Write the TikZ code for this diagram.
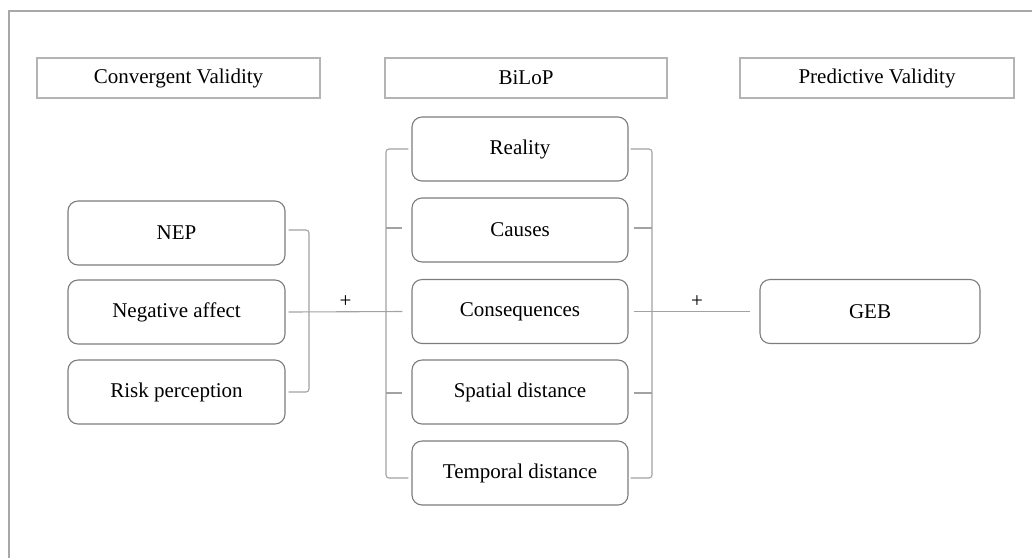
\documentclass[tikz,border=0pt]{standalone}
\usepackage{fontspec}
\setmainfont{Liberation Serif}
\usetikzlibrary{calc}
\definecolor{boxgray}{HTML}{7C7C7C}
\definecolor{linkgray}{HTML}{A2A2A2}
\definecolor{hdrgray}{HTML}{B4B4B4}
\definecolor{framegray}{HTML}{A8A8A8}
\begin{document}
\begin{tikzpicture}[x=1pt,y=-1pt,
  every node/.style={font=\fontsize{21}{25}\selectfont, text=black},
  item/.style={draw=boxgray, line width=1.1pt, rounded corners=10pt,
    minimum width=217pt, minimum height=64pt, inner sep=0pt, fill=white},
  header/.style={draw=hdrgray, line width=1.5pt, minimum height=40pt, inner sep=0pt},
  link/.style={draw=linkgray, line width=1.1pt},
  brace/.style={link, rounded corners=3pt}]
\useasboundingbox (0,0) rectangle (1032,558);

% outer frame (open to the right and bottom)
\draw[framegray, line width=1.5pt] (9,558) -- (9,11) -- (1032,11);

% column headers
\node[header, minimum width=283pt] (hconv) at (178.5,78) {Convergent Validity};
\node[header, minimum width=282pt] (hbilop) at (526,78) {BiLoP};
\node[header, minimum width=274pt] (hpred) at (877,78) {Predictive Validity};

% convergent measures
\node[item] (nep)  at (176.5,233) {NEP};
\node[item] (neg)  at (176.5,312) {Negative affect};
\node[item] (risk) at (176.5,392) {Risk perception};

% BiLoP dimensions
\node[item, minimum width=216pt] (reality) at (520,149) {Reality};
\node[item, minimum width=216pt] (causes)  at (520,230) {Causes};
\node[item, minimum width=216pt] (conseq)  at (520,311.5) {Consequences};
\node[item, minimum width=216pt] (spatial) at (520,392) {Spatial distance};
\node[item, minimum width=216pt] (temporal) at (520,473) {Temporal distance};

% predicted outcome
\node[item, minimum width=220pt] (geb) at (870,311.5) {GEB};

% bracket x positions
\coordinate (lbx) at (309,0);
\coordinate (mlx) at (386,0);
\coordinate (mrx) at (652,0);

% bracket grouping the convergent measures
\coordinate (l1) at ($(nep.east)+(3,-3)$);
\coordinate (l3) at ($(risk.east)+(3,0)$);
\draw[brace] (l1) -- (l1 -| lbx) -- (l3 -| lbx) -- (l3);

% left bracket of BiLoP dimensions
\coordinate (a1) at ($(reality.west)+(-3,0)$);
\coordinate (a5) at ($(temporal.west)+(-3,5)$);
\draw[brace] (a1) -- (a1 -| mlx) -- (a5 -| mlx) -- (a5);
\coordinate (a2) at ($(causes.west)+(-9,-2)$);
\coordinate (a4) at ($(spatial.west)+(-9,1)$);
\draw[link] (a2 -| mlx) -- (a2);
\draw[link] (a4 -| mlx) -- (a4);

% right bracket of BiLoP dimensions
\coordinate (b1) at ($(reality.east)+(2,0)$);
\coordinate (b5) at ($(temporal.east)+(2,5)$);
\draw[brace] (b1) -- (b1 -| mrx) -- (b5 -| mrx) -- (b5);
\coordinate (b2) at ($(causes.east)+(5,-2)$);
\coordinate (b4) at ($(spatial.east)+(5,1)$);
\draw[link] (b2) -- (b2 -| mrx);
\draw[link] (b4) -- (b4 -| mrx);

% positive links
\draw[link] ($(neg.east)+(3,0)$) -- ($(conseq.west)+(-9,0)$)
  node[pos=0.5, yshift=10pt] (p1) {+};
\draw[link] ($(conseq.east)+(5,0)$) -- ($(geb.west)+(-9,0)$)
  node[pos=0.5, yshift=10pt, xshift=5pt] (p2) {+};
\end{tikzpicture}
\end{document}
